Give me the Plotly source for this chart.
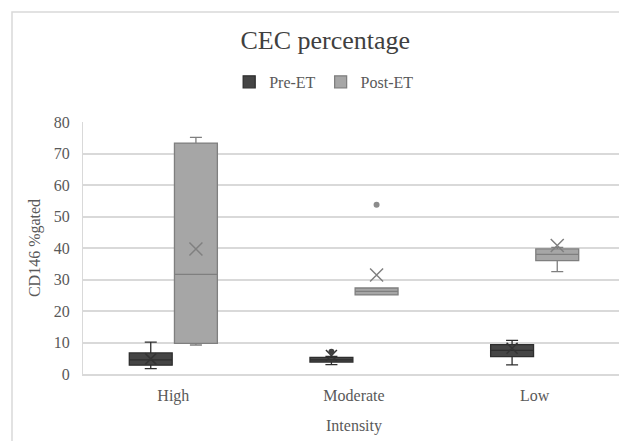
import plotly.graph_objects as go

categories = ["High", "Moderate", "Low"]

# Pre-ET statistics per intensity
pre_lower = [1.7, 3.0, 2.9]
pre_q1 = [2.8, 3.8, 5.5]
pre_median = [4.5, 4.5, 7.5]
pre_q3 = [6.7, 5.3, 9.3]
pre_upper = [10.1, 5.6, 10.7]
pre_mean = [4.8, 5.9, 8.2]
pre_outlier_cat = ["Moderate"]
pre_outlier_val = [7.1]

# Post-ET statistics per intensity
post_lower = [9.2, 25.1, 32.5]
post_q1 = [9.7, 25.1, 36.0]
post_median = [31.6, 26.2, 38.0]
post_q3 = [73.3, 27.3, 39.7]
post_upper = [75.1, 27.3, 40.2]
post_mean = [39.7, 31.4, 40.8]
post_outlier_cat = ["Moderate"]
post_outlier_val = [53.7]

y_ticks = [0, 10, 20, 30, 40, 50, 60, 70, 80]

FONT = "Liberation Serif, Times New Roman, serif"
TXT = "#595959"
PRE_FILL = "#454545"
PRE_LINE = "#2e2e2e"
POST_FILL = "#a6a6a6"
POST_LINE = "#7f7f7f"

fig = go.Figure()

fig.add_trace(go.Box(
    name="Pre-ET", x=categories, q1=pre_q1, median=pre_median, q3=pre_q3,
    lowerfence=pre_lower, upperfence=pre_upper,
    fillcolor=PRE_FILL, line=dict(color=PRE_LINE, width=1.3),
    whiskerwidth=0.28, offsetgroup="pre", boxpoints=False,
))
fig.add_trace(go.Box(
    name="Post-ET", x=categories, q1=post_q1, median=post_median, q3=post_q3,
    lowerfence=post_lower, upperfence=post_upper,
    fillcolor=POST_FILL, line=dict(color=POST_LINE, width=1.3),
    whiskerwidth=0.28, offsetgroup="post", boxpoints=False,
))

# mean markers
fig.add_trace(go.Scatter(
    x=categories, y=pre_mean, mode="markers", offsetgroup="pre", showlegend=False,
    marker=dict(symbol="x-thin-open", size=11, color="#333333", line=dict(color="#333333", width=1.5)),
))
fig.add_trace(go.Scatter(
    x=categories, y=post_mean, mode="markers", offsetgroup="post", showlegend=False,
    marker=dict(symbol="x-thin-open", size=13, color="#808080", line=dict(color="#808080", width=1.5)),
))
# outliers
fig.add_trace(go.Scatter(
    x=pre_outlier_cat, y=pre_outlier_val, mode="markers", offsetgroup="pre", showlegend=False,
    marker=dict(symbol="circle", size=6, color="#404040"),
))
fig.add_trace(go.Scatter(
    x=post_outlier_cat, y=post_outlier_val, mode="markers", offsetgroup="post", showlegend=False,
    marker=dict(symbol="circle", size=6, color="#8c8c8c"),
))

fig.update_layout(
    width=627, height=441,
    margin=dict(l=75, r=10, t=114, b=75, autoexpand=False),
    paper_bgcolor="white", plot_bgcolor="white",
    boxmode="group", boxgap=0.5, boxgroupgap=0.05,
    scattermode="group", scattergap=0.5,
    font=dict(family=FONT, color=TXT, size=16),
    title=dict(text="CEC percentage", x=0.506, xanchor="center", y=0.927, yanchor="middle",
               font=dict(family=FONT, size=26, color="#404040")),
    legend=dict(orientation="h", x=0.445, xanchor="center", y=1.159, yanchor="middle",
                font=dict(family=FONT, size=16, color=TXT), itemwidth=30,
                bgcolor="rgba(0,0,0,0)"),
    xaxis=dict(categoryorder="array", categoryarray=categories, showgrid=False, automargin=False,
               showline=True, linecolor="#d9d9d9", linewidth=1.5, ticks="",
               ticklabelstandoff=6,
               title=dict(text="Intensity", font=dict(family=FONT, size=16, color=TXT), standoff=16)),
    yaxis=dict(range=[0, 80], tickvals=y_ticks, showgrid=True, gridcolor="#d9d9d9", gridwidth=1.5,
               showline=True, linecolor="#d9d9d9", linewidth=1, zeroline=False, ticks="",
               ticklabelstandoff=9, automargin=False,
               title=dict(text="CD146 %gated", font=dict(family=FONT, size=16, color=TXT), standoff=9)),
    shapes=[dict(type="rect", xref="paper", yref="paper",
                 x0=(4 - 75) / 542, x1=1.2, y0=-0.6, y1=(366 - 4) / 252,
                 line=dict(color="#d9d9d9", width=1.5), fillcolor="rgba(0,0,0,0)", layer="below")],
)

fig.write_html("out.html")
